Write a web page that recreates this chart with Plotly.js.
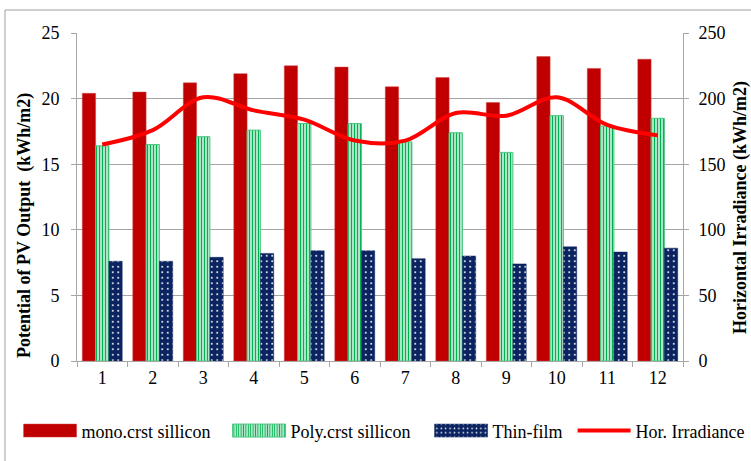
<!DOCTYPE html>
<html>
<head>
<meta charset="utf-8">
<script src="https://cdn.plot.ly/plotly-3.0.1.min.js"></script>
<style>
html,body{margin:0;padding:0;background:#fff;}
#chart{width:751px;height:461px;}
/* Excel-style wide legend swatches for bar series */
#chart .legendpoints path.legendundefined,
#chart .legendpoints path.legendbar{ d: path("M26.5,6.5H-26.5V-6.5H26.5Z"); }
</style>
</head>
<body>
<div id="chart"></div>
<script>
const months = ['1','2','3','4','5','6','7','8','9','10','11','12'];
const monoValues = [20.4, 20.5, 21.2, 21.9, 22.5, 22.4, 20.9, 21.6, 19.7, 23.2, 22.3, 23.0];
const polyValues = [16.4, 16.5, 17.1, 17.6, 18.1, 18.1, 16.7, 17.4, 15.9, 18.7, 17.9, 18.5];
const thinValues = [7.6, 7.6, 7.9, 8.2, 8.4, 8.4, 7.8, 8.0, 7.4, 8.7, 8.3, 8.6];
const irradiance = [165, 176, 201, 191, 184, 168, 168, 189, 187, 201, 180, 172];
const seriesNames = ['mono.crst sillicon', 'Poly.crst sillicon', 'Thin-film', 'Hor. Irradiance'];
const leftTitle = 'Potential of PV Output  (kWh/m2)';
const rightTitle = 'Horizontal Irradiance (kWh/m2)';

const FONT = 'Liberation Serif, Times New Roman, serif';
const GRID = '#a6a6a6';
const SWATCH = 'M26.5,6.5H-26.5V-6.5H26.5Z';

const traces = [
  {type:'bar', name:seriesNames[0], x:months, y:monoValues, legend:'legend',
   marker:{color:'#c00000', line:{color:'#d04040', width:0.5}}},
  {type:'bar', name:seriesNames[1], x:months, y:polyValues, legend:'legend2',
   marker:{color:'#00b050', line:{color:'#4cc880', width:1},
     pattern:{shape:'|', fgcolor:'#00b050', bgcolor:'#ffffff', size:3, solidity:0.55, fillmode:'replace'}}},
  {type:'bar', name:seriesNames[2], x:months, y:thinValues, legend:'legend3',
   marker:{color:'#0b2461', line:{color:'#0b2461', width:0.5},
     pattern:{shape:'.', fgcolor:'#ffffff', bgcolor:'#0b2461', size:5.5, solidity:0.1, fillmode:'replace'}}},
  {type:'scatter', mode:'lines', name:seriesNames[3], x:months, y:irradiance, yaxis:'y2', legend:'legend4',
   line:{color:'#ff0000', width:4, shape:'spline', smoothing:1}}
];

function legendAt(xp){
  return {orientation:'h', x:xp, xanchor:'left', y:-0.213, yanchor:'middle',
    font:{family:FONT, size:18, color:'#000'}, itemwidth:53, bgcolor:'rgba(0,0,0,0)'};
}

const layout = {
  width:751, height:461,
  margin:{l:77, r:68, t:33, b:100, autoexpand:false},
  paper_bgcolor:'#ffffff', plot_bgcolor:'#ffffff',
  font:{family:FONT, size:18, color:'#000'},
  barmode:'group', bargap:0.21, bargroupgap:0,
  showlegend:true,
  legend:legendAt(-0.0964),
  legend2:legendAt(0.2485),
  legend3:legendAt(0.5818),
  legend4:legendAt(0.8178),
  xaxis:{type:'category', showline:true, linecolor:GRID, linewidth:1, ticks:'outside', ticklen:5,
    tickcolor:GRID, tickson:'boundaries', showgrid:false, zeroline:false, automargin:false,
    tickfont:{family:FONT, size:18, color:'#000'}, fixedrange:true},
  yaxis:{range:[0,25], dtick:5, tick0:0, showline:true, linecolor:GRID, linewidth:1, automargin:false,
    ticks:'outside', ticklen:5, tickcolor:GRID, showgrid:true, gridcolor:GRID, gridwidth:1,
    zeroline:false, ticklabelstandoff:8, tickfont:{family:FONT, size:18, color:'#000'}},
  yaxis2:{range:[0,250], dtick:50, tick0:0, overlaying:'y', side:'right', showline:true, automargin:false,
    linecolor:GRID, linewidth:1, ticks:'outside', ticklen:5, tickcolor:GRID, showgrid:false,
    zeroline:false, ticklabelstandoff:6, tickfont:{family:FONT, size:18, color:'#000'}},
  annotations:[
    {text:'<b>'+leftTitle+'</b>', xref:'paper', yref:'paper', x:-0.0858, y:0.4116,
     xanchor:'center', yanchor:'middle', textangle:-90, showarrow:false,
     font:{family:FONT, size:18, color:'#000'}},
    {text:'<b>'+rightTitle+'</b>', xref:'paper', yref:'paper', x:1.094, y:0.4695,
     xanchor:'center', yanchor:'middle', textangle:-90, showarrow:false,
     font:{family:FONT, size:18, color:'#000'}}
  ],
  shapes:[
    {type:'rect', xref:'paper', yref:'paper', x0:-0.1188, x1:1.3, y0:-0.6, y1:1.0701,
     line:{color:'#a0a0a0', width:1}, fillcolor:'rgba(0,0,0,0)', layer:'below'}
  ]
};

function widenSwatches(root){
  root.querySelectorAll('.legendpoints path').forEach(function(p){
    var d = (p.getAttribute('d') || '').replace(/\s/g,'');
    if(d === 'M6,6H-6V-6H6Z') p.setAttribute('d', SWATCH);
  });
}

const chartDiv = document.getElementById('chart');
const observer = new MutationObserver(function(){ widenSwatches(chartDiv); });
observer.observe(chartDiv, {subtree:true, childList:true, attributes:true, attributeFilter:['d']});

Plotly.newPlot(chartDiv, traces, layout, {staticPlot:true, displayModeBar:false}).then(function(gd){
  widenSwatches(gd);
});
</script>
</body>
</html>
